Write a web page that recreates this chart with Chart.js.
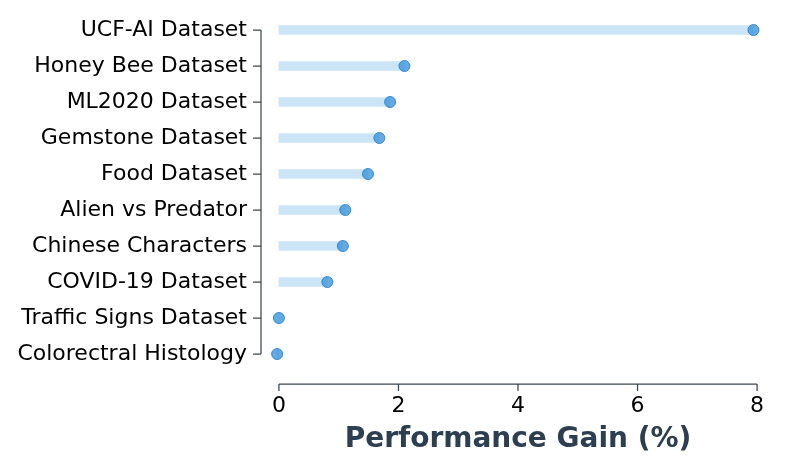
<!DOCTYPE html>
<html>
<head>
<meta charset="utf-8">
<script src="https://cdn.jsdelivr.net/npm/chart.js@4/dist/chart.umd.min.js"></script>
<style>
html,body{margin:0;padding:0;background:#fff;}
#wrap{width:790px;height:467px;}
</style>
</head>
<body>
<div id="wrap"><canvas id="c" width="790" height="467"></canvas></div>
<script>
const categories = ["UCF-AI Dataset","Honey Bee Dataset","ML2020 Dataset","Gemstone Dataset","Food Dataset","Alien vs Predator","Chinese Characters","COVID-19 Dataset","Traffic Signs Dataset","Colorectral Histology"];
const gains = [7.94, 2.10, 1.86, 1.68, 1.49, 1.11, 1.07, 0.81, 0.0, -0.03];
const xTicks = [0, 2, 4, 6, 8];
const xTitle = "Performance Gain (%)";

const spineColor = '#3b4653';

const spines = {
  id: 'spines',
  afterDraw(chart) {
    const ctx = chart.ctx;
    const xs = chart.scales.x, ys = chart.scales.y;
    ctx.save();
    ctx.strokeStyle = spineColor;
    ctx.lineWidth = 1.25;
    const sx = 261;
    const y0 = ys.getPixelForValue(0), y1 = ys.getPixelForValue(categories.length - 1);
    ctx.beginPath();
    ctx.moveTo(sx, y0); ctx.lineTo(sx, y1);
    for (let i = 0; i < categories.length; i++) {
      const y = ys.getPixelForValue(i);
      ctx.moveTo(sx - 8, y); ctx.lineTo(sx, y);
    }
    const by = 384;
    const x0 = xs.getPixelForValue(xTicks[0]), x1 = xs.getPixelForValue(xTicks[xTicks.length - 1]);
    ctx.moveTo(x0, by); ctx.lineTo(x1, by);
    xTicks.forEach(t => {
      const x = xs.getPixelForValue(t);
      ctx.moveTo(x, by); ctx.lineTo(x, by + 7);
    });
    ctx.stroke();
    ctx.restore();
  }
};

new Chart(document.getElementById('c'), {
  data: {
    labels: categories,
    datasets: [
      {
        type: 'bar',
        data: gains,
        backgroundColor: 'rgba(52,152,219,0.25)',
        borderWidth: 0,
        barThickness: 9,
        order: 2
      },
      {
        type: 'line',
        data: gains,
        showLine: false,
        pointRadius: 5.5,
        pointBackgroundColor: 'rgba(60,150,220,0.8)',
        pointBorderColor: 'rgba(45,130,205,0.9)',
        pointBorderWidth: 1,
        order: 1
      }
    ]
  },
  plugins: [spines],
  options: {
    indexAxis: 'y',
    responsive: false,
    animation: false,
    events: [],
    layout: { padding: { top: 12, right: 15, left: 0, bottom: 0 } },
    plugins: { legend: { display: false }, tooltip: { enabled: false } },
    scales: {
      y: {
        type: 'category',
        offset: true,
        grid: { display: false, drawTicks: false },
        border: { display: false },
        ticks: {
          color: '#000',
          font: { family: 'DejaVu Sans', size: 22 },
          padding: 14
        },
        afterFit(s) { s.width = 261; s.paddingTop = 0; s.paddingBottom = 0; }
      },
      x: {
        type: 'linear',
        min: -0.3,
        max: 8.3,
        grid: { display: false, drawTicks: false },
        border: { display: false },
        afterBuildTicks(s) { s.ticks = xTicks.map(v => ({ value: v })); },
        afterFit(s) { s.height = 95; s.paddingLeft = 0; s.paddingRight = 0; },
        ticks: {
          color: '#000',
          font: { family: 'DejaVu Sans', size: 22 },
          padding: 21,
          maxRotation: 0
        },
        title: {
          display: true,
          text: xTitle,
          color: '#2c3e50',
          font: { family: 'DejaVu Sans', size: 28, weight: 'bold' },
          padding: { top: 0, bottom: 10 }
        }
      }
    }
  }
});
</script>
</body>
</html>
